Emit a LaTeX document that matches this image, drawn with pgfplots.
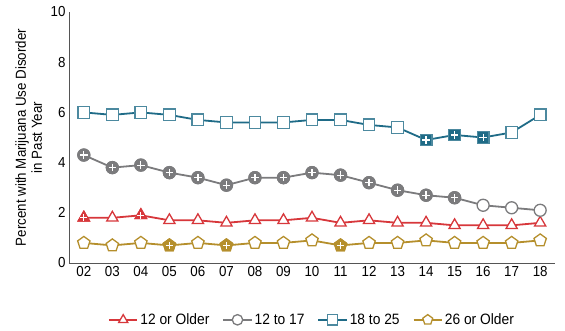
\documentclass[border=0pt]{standalone}
\usepackage{fontspec}
\setmainfont{Liberation Sans}[FakeStretch=0.92]
\usepackage{pgfplots}
\pgfplotsset{compat=1.18}
\definecolor{cRed}{HTML}{D7373B}
\definecolor{cGray}{HTML}{7B7B7D}
\definecolor{cTeal}{HTML}{1F6B87}
\definecolor{cGold}{HTML}{B58F2C}
\definecolor{cAxis}{HTML}{555555}
\begin{document}
\begin{tikzpicture}
\begin{axis}[
  name=main,
  scale only axis, width=486pt, height=251pt,
  xmin=1.48, xmax=18.52, ymin=0, ymax=10,
  axis x line=bottom, axis y line=left,
  axis line style={-, cAxis, line width=0.9pt},
  xtick={2,...,18},
  xticklabels={02,03,04,05,06,07,08,09,10,11,12,13,14,15,16,17,18},
  ytick={0,2,4,6,8,10},
  major tick length=0pt,
  tick label style={font=\fontsize{14.5}{16}\selectfont, text=black},
  /pgf/number format/assume math mode=true,
  ylabel={Percent with Marijuana Use Disorder\\in Past Year},
  ylabel style={align=center, font=\fontsize{14.5}{16}\selectfont, at={(axis description cs:-0.048,0.5)}},
  legend columns=4,
  legend style={draw=none, at={(0.5,-0.185)}, anchor=north, font=\fontsize{15}{17}\selectfont,
    /tikz/every even column/.append style={column sep=11pt}},
  legend cell align=left,
  legend image code/.code={\draw[mark repeat=2, mark phase=2, #1, mark size=5.2pt] plot coordinates {(0cm,0cm) (0.5cm,0cm) (1.0cm,0cm)};},
  every axis plot/.append style={line width=1.8pt},
]
% 12 or Older
\addplot[cRed, mark=triangle*, mark size=6.5pt, mark options={fill=white, line width=1.3pt}] coordinates {
(2,1.8)(3,1.8)(4,1.9)(5,1.7)(6,1.7)(7,1.6)(8,1.7)(9,1.7)(10,1.8)(11,1.6)(12,1.7)(13,1.6)(14,1.6)(15,1.5)(16,1.5)(17,1.5)(18,1.6)};
\addlegendentry{12 or Older}
% 12 to 17
\addplot[cGray, mark=*, mark size=6pt, mark options={fill=white, line width=1.3pt}] coordinates {
(2,4.3)(3,3.8)(4,3.9)(5,3.6)(6,3.4)(7,3.1)(8,3.4)(9,3.4)(10,3.6)(11,3.5)(12,3.2)(13,2.9)(14,2.7)(15,2.6)(16,2.3)(17,2.2)(18,2.1)};
\addlegendentry{12 to 17}
% 18 to 25
\addplot[cTeal, mark=square*, mark size=5.8pt, mark options={fill=white, line width=1.3pt, draw=cTeal!80!white}] coordinates {
(2,6.0)(3,5.9)(4,6.0)(5,5.9)(6,5.7)(7,5.6)(8,5.6)(9,5.6)(10,5.7)(11,5.7)(12,5.5)(13,5.4)(14,4.9)(15,5.1)(16,5.0)(17,5.2)(18,5.9)};
\addlegendentry{18 to 25}
% 26 or Older
\addplot[cGold, mark=pentagon*, mark size=6.5pt, mark options={fill=white, line width=1.3pt}] coordinates {
(2,0.8)(3,0.7)(4,0.8)(5,0.7)(6,0.8)(7,0.7)(8,0.8)(9,0.8)(10,0.9)(11,0.7)(12,0.8)(13,0.8)(14,0.9)(15,0.8)(16,0.8)(17,0.8)(18,0.9)};
\addlegendentry{26 or Older}
% filled (significant) markers
\addplot[forget plot, only marks, mark=triangle*, mark size=6.5pt, mark options={fill=cRed, draw=cRed, line width=1.3pt}] coordinates {(2,1.8)(4,1.9)};
\addplot[forget plot, only marks, mark=+, mark size=3.6pt, mark options={draw=white, line width=1.2pt}] coordinates {(2,1.8)(4,1.9)};
\addplot[forget plot, only marks, mark=*, mark size=6pt, mark options={fill=cGray, draw=cGray, line width=1.3pt}] coordinates {
(2,4.3)(3,3.8)(4,3.9)(5,3.6)(6,3.4)(7,3.1)(8,3.4)(9,3.4)(10,3.6)(11,3.5)(12,3.2)(13,2.9)(14,2.7)(15,2.6)};
\addplot[forget plot, only marks, mark=+, mark size=3.8pt, mark options={draw=white, line width=1.2pt}] coordinates {
(2,4.3)(3,3.8)(4,3.9)(5,3.6)(6,3.4)(7,3.1)(8,3.4)(9,3.4)(10,3.6)(11,3.5)(12,3.2)(13,2.9)(14,2.7)(15,2.6)};
\addplot[forget plot, only marks, mark=square*, mark size=5.8pt, mark options={fill=cTeal, draw=cTeal!80!white, line width=1.3pt}] coordinates {(14,4.9)(15,5.1)(16,5.0)};
\addplot[forget plot, only marks, mark=+, mark size=3.8pt, mark options={draw=white, line width=1.2pt}] coordinates {(14,4.9)(15,5.1)(16,5.0)};
\addplot[forget plot, only marks, mark=pentagon*, mark size=6.5pt, mark options={fill=cGold, draw=cGold, line width=1.3pt}] coordinates {(5,0.7)(7,0.7)(11,0.7)};
\addplot[forget plot, only marks, mark=+, mark size=3.6pt, mark options={draw=white, line width=1.2pt}] coordinates {(5,0.7)(7,0.7)(11,0.7)};
\end{axis}
\path ([xshift=-69pt,yshift=-68pt]main.south west) rectangle ([xshift=10pt,yshift=12pt]main.north east);
\end{tikzpicture}
\end{document}
